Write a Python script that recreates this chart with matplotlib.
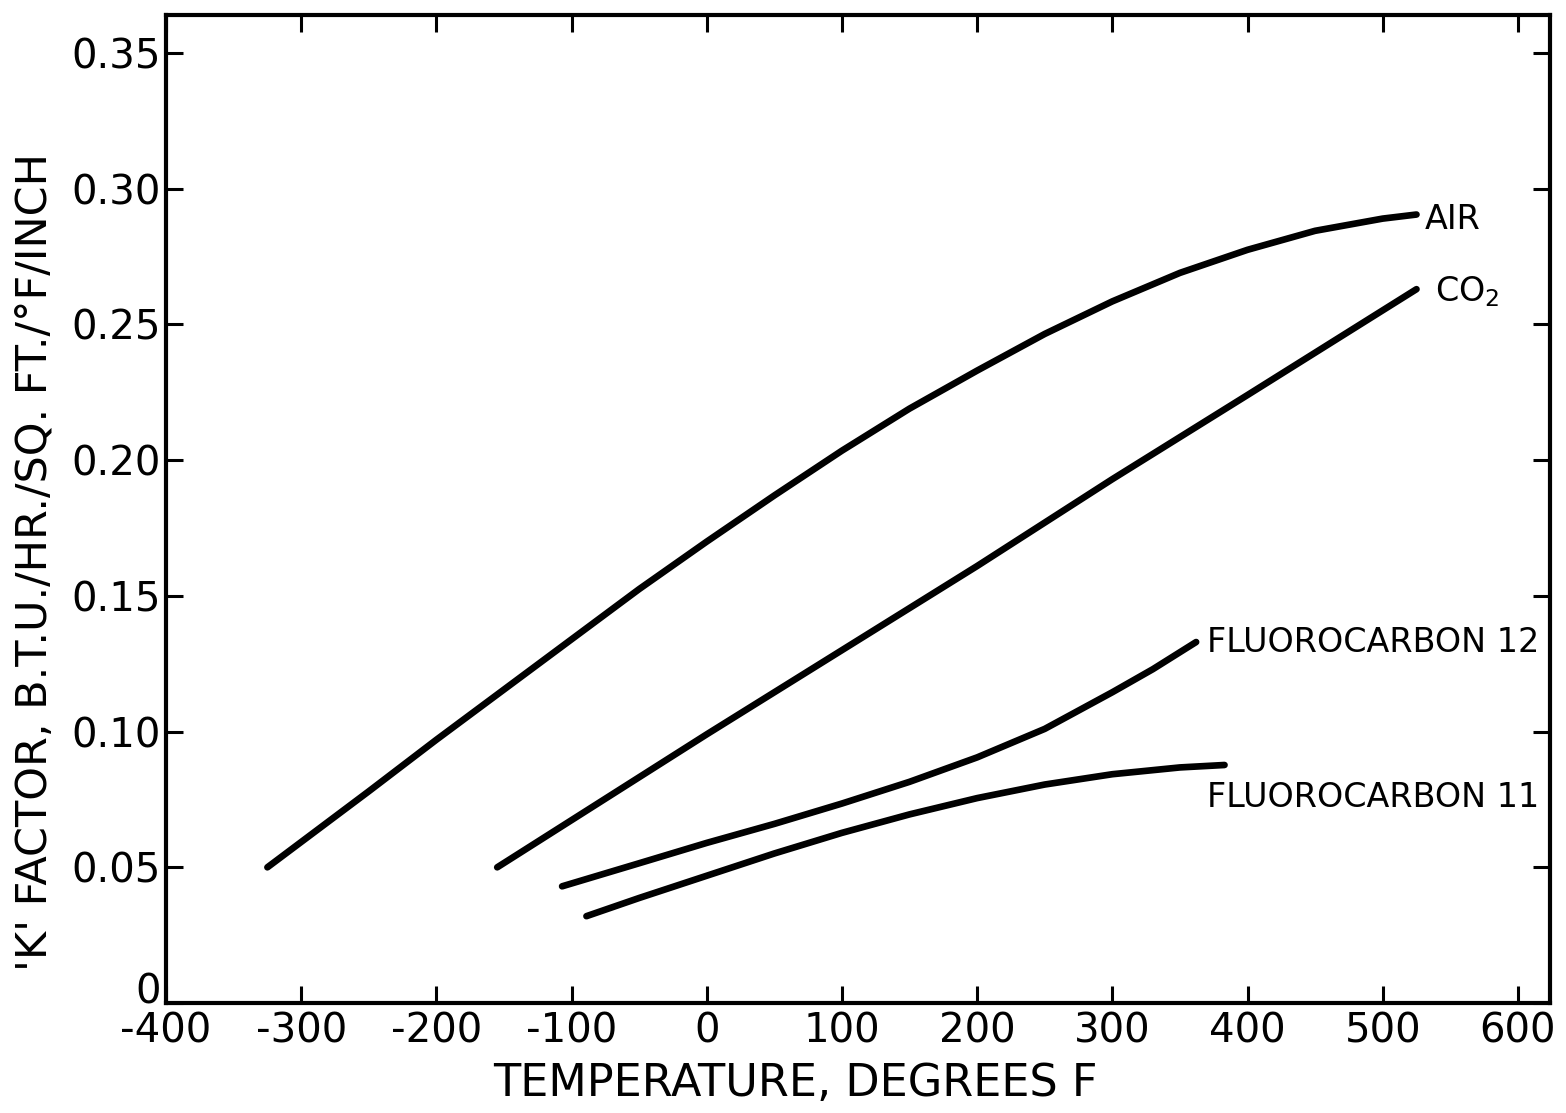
from matplotlib import pyplot as plt
from matplotlib import transforms
import numpy as np

# thermal conductivity ('K' factor) of gases vs temperature
air_t = [-325, -250, -200, -150, -100, -50, 0, 50, 100, 150, 200, 250, 300, 350, 400, 450, 500, 525]
air_k = [0.050, 0.078, 0.097, 0.1155, 0.134, 0.1525, 0.170, 0.187, 0.2035, 0.219, 0.233, 0.2465,
		 0.2585, 0.2690, 0.2775, 0.2845, 0.2890, 0.2905]

co2_t = [-155, 0, 100, 200, 300, 400, 525]
co2_k = [0.050, 0.099, 0.130, 0.161, 0.193, 0.224, 0.263]

f12_t = [-107, -50, 0, 50, 100, 150, 200, 250, 300, 330, 362]
f12_k = [0.043, 0.0515, 0.059, 0.066, 0.0735, 0.0815, 0.0905, 0.101, 0.1145, 0.123, 0.133]

f11_t = [-89, -50, 0, 50, 100, 150, 200, 250, 300, 350, 383]
f11_k = [0.032, 0.0387, 0.0469, 0.0551, 0.0627, 0.0695, 0.0755, 0.0805, 0.0843, 0.0868, 0.0877]

curves = [
	(air_t, air_k, "AIR", 531, 0.2885),
	(co2_t, co2_k, "CO$_2$", 539, 0.262),
	(f12_t, f12_k, "FLUOROCARBON 12", 370, 0.133),
	(f11_t, f11_k, "FLUOROCARBON 11", 370, 0.0759),
]

x_ticks = np.arange(-400, 601, 100)
y_ticks = [0, 0.05, 0.10, 0.15, 0.20, 0.25, 0.30, 0.35]
y_labels = ["0", "0.05", "0.10", "0.15", "0.20", "0.25", "0.30", "0.35"]

plt.rcParams['font.family'] = ['DejaVu Sans']

fig = plt.figure(figsize=(15.66, 11.13), dpi=100)
ax = fig.add_axes([0.106, 0.0988, 0.884, 0.8877])

for t, k, name, lx, ly in curves:
	ax.plot(t, k, color='black', lw=4.8, solid_capstyle='round', solid_joinstyle='round')
	ax.text(lx, ly, name, fontsize=24, ha='left', va='center')

ax.set_xlim(-400, 624)
ax.set_ylim(0, 0.364)
ax.set_xticks(x_ticks)
ax.set_xticklabels(['{}'.format(x) for x in x_ticks])
ax.set_yticks(y_ticks)
ax.set_yticklabels(y_labels)
ax.tick_params(direction='in', length=12, width=2.2, top=True, right=True,
			   labelsize=29, pad=6)
ax.tick_params(axis='y', pad=4)
for s in ax.spines.values():
	s.set_linewidth(3)

# the "0" on the y axis sits a little above the corner, clear of "-400"
zero = ax.get_yticklabels()[0]
zero.set_transform(zero.get_transform() + transforms.ScaledTranslation(0, 15 / 100, fig.dpi_scale_trans))

ax.set_xlabel('TEMPERATURE, DEGREES F', fontsize=32)
ax.set_ylabel("'K' FACTOR, B.T.U./HR./SQ. FT./°F/INCH", fontsize=31)
ax.xaxis.set_label_coords(0.455, -0.060)
ax.yaxis.set_label_coords(-0.080, 0.446)

fig.savefig("out.png", dpi=100)
